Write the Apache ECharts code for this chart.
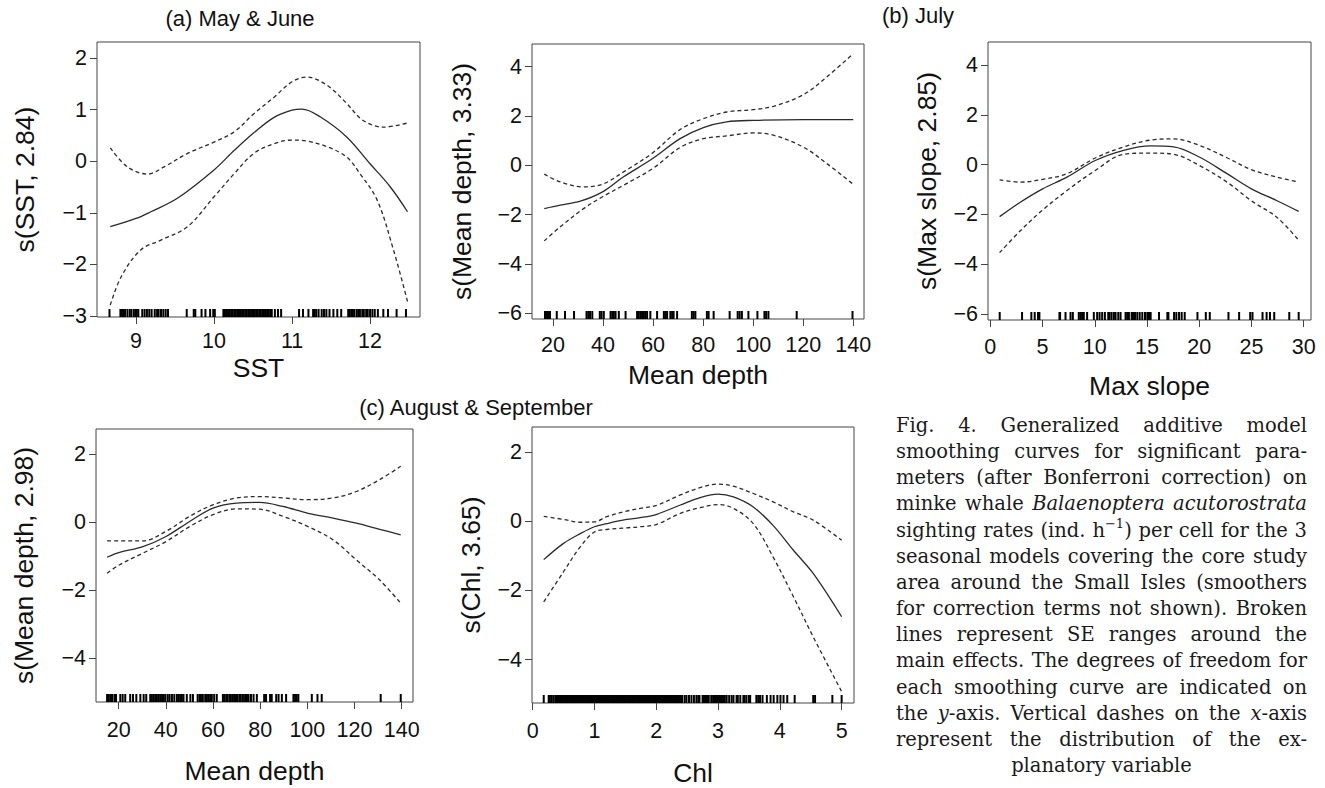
<!DOCTYPE html>
<html>
<head>
<meta charset="utf-8">
<script src="https://cdn.jsdelivr.net/npm/echarts@6/dist/echarts.min.js"></script>
<style>
html,body{margin:0;padding:0;background:#fff;}
#chart{width:1325px;height:788px;}
</style>
</head>
<body>
<div id="chart"></div>
<script>
// ---------------- DATA ----------------
// (a) May & June : SST
const sstFitX = [8.67, 9.0, 9.19, 9.53, 10.0, 10.26, 10.51, 10.77, 11.0, 11.13, 11.36, 11.70, 12.0, 12.26, 12.48];
const sstFit  = [-1.27, -1.11, -0.98, -0.72, -0.17, 0.21, 0.55, 0.85, 0.99, 1.01, 0.86, 0.47, -0.05, -0.50, -0.98];
const sstUpX  = [8.67, 8.89, 9.15, 9.36, 9.66, 10.0, 10.26, 10.51, 10.77, 11.0, 11.19, 11.45, 11.70, 11.91, 12.17, 12.48];
const sstUp   = [0.26, -0.11, -0.25, -0.11, 0.15, 0.37, 0.57, 0.92, 1.24, 1.54, 1.63, 1.47, 1.12, 0.79, 0.66, 0.74];
const sstLoX  = [8.67, 8.81, 9.06, 9.32, 9.66, 10.0, 10.26, 10.51, 10.77, 11.0, 11.19, 11.45, 11.70, 11.87, 12.09, 12.30, 12.48];
const sstLo   = [-2.79, -2.24, -1.72, -1.53, -1.27, -0.69, -0.24, 0.15, 0.34, 0.41, 0.39, 0.28, 0.08, -0.24, -0.75, -1.72, -2.72];
const sstRug  = [8.66, 8.80, 8.82, 8.84, 8.86, 8.89, 8.92, 8.94, 8.97, 8.99, 9.01, 9.03, 9.08, 9.11, 9.14, 9.17, 9.20, 9.24, 9.27, 9.29, 9.32, 9.35, 9.38, 9.41,
  9.65, 9.74, 9.76, 9.84, 9.89, 9.95, 9.99, 10.01,
  10.12, 10.14, 10.16, 10.18, 10.20, 10.22, 10.24, 10.26, 10.28, 10.30, 10.32, 10.34, 10.36, 10.38, 10.40, 10.42, 10.44, 10.46, 10.48, 10.50, 10.52, 10.54, 10.56, 10.58, 10.60, 10.62, 10.64, 10.66, 10.68, 10.70, 10.72, 10.74,
  10.78, 10.82, 10.86, 11.09, 11.14, 11.21, 11.27, 11.29, 11.31, 11.34, 11.38, 11.41, 11.44, 11.48, 11.53, 11.58, 11.63,
  11.72, 11.74, 11.76, 11.78, 11.80, 11.83, 11.85, 11.87, 11.90, 11.92, 11.95, 11.97, 12.00, 12.03, 12.06, 12.10, 12.17, 12.23, 12.34, 12.46];
const sstXTicks = [9, 10, 11, 12];
const sstYTicks = [-3, -2, -1, 0, 1, 2];

// (a) May & June : Mean depth
const md1FitX = [16.5, 22.9, 30.9, 39.8, 48.2, 59.8, 70.8, 80.1, 89.4, 100.1, 120.0, 140.0];
const md1Fit  = [-1.76, -1.62, -1.46, -1.08, -0.47, 0.27, 1.08, 1.53, 1.76, 1.82, 1.85, 1.85];
const md1SeX  = [16.5, 22.9, 32.2, 39.8, 48.2, 59.8, 70.8, 80.1, 89.4, 100.1, 108.1, 120.0, 129.4, 140.0];
const md1Up   = [-0.36, -0.68, -0.88, -0.77, -0.27, 0.50, 1.45, 1.89, 2.16, 2.26, 2.39, 2.86, 3.58, 4.53];
const md1Lo   = [-3.07, -2.50, -1.76, -1.28, -0.81, -0.14, 0.72, 1.08, 1.19, 1.31, 1.22, 0.74, 0.07, -0.77];
const md1Rug  = [16.8, 17.5, 18.0, 18.8, 21.5, 24.8, 28.4, 33.4, 34.1, 34.8, 35.7, 38.7, 39.4, 40.3, 43.0, 43.7, 44.3, 45.0, 46.3, 49.0,
  53.6, 54.3, 55.0, 55.6, 56.3, 56.9, 57.6, 58.9, 61.6, 64.3, 64.9, 65.6, 66.9, 67.6, 68.2, 69.6, 75.5, 76.2, 76.9, 81.5, 82.2, 84.2,
  90.6, 93.8, 94.6, 95.5, 98.1, 101.7, 104.5, 105.2, 106.1, 117.4, 139.7];
const md1XTicks = [20, 40, 60, 80, 100, 120, 140];
const md1YTicks = [-6, -4, -2, 0, 2, 4];

// (b) July : Max slope
const msX   = [0.89, 2.87, 5.01, 7.34, 10.05, 12.77, 15.32, 17.55, 20.01, 22.66, 24.99, 27.45, 29.52];
const msFit = [-2.09, -1.51, -0.97, -0.50, 0.17, 0.58, 0.76, 0.72, 0.31, -0.36, -0.97, -1.45, -1.88];
const msUp  = [-0.61, -0.70, -0.59, -0.36, 0.27, 0.72, 0.99, 1.04, 0.78, 0.28, -0.20, -0.50, -0.70];
const msLo  = [-3.54, -2.66, -1.82, -1.04, -0.23, 0.42, 0.47, 0.42, -0.03, -0.70, -1.45, -2.12, -3.04];
const msRug = [0.90, 3.04, 3.93, 4.25, 4.57, 4.70, 6.62, 6.68, 7.20, 7.68, 7.90, 8.47, 8.63, 8.79, 8.95, 9.27, 9.91, 10.23, 10.46, 10.71, 10.97,
  11.29, 11.42, 11.61, 11.83, 11.99, 12.25, 12.47, 12.95, 13.11, 13.27, 13.53, 13.66, 13.85, 14.07, 14.30, 14.55, 14.81, 15.03, 15.13, 15.25, 15.35,
  16.15, 16.95, 17.05, 17.59, 17.81, 18.07, 18.32, 18.61, 19.83, 20.63, 21.01, 22.80, 23.82, 24.88, 25.10, 26.06, 26.45, 26.77, 27.18, 28.62, 29.52];
const msXTicks = [0, 5, 10, 15, 20, 25, 30];
const msYTicks = [-6, -4, -2, 0, 2, 4];

// (c) August & September : Mean depth
const md2X   = [15.1, 20.4, 30.3, 40.1, 50.1, 60.0, 69.9, 79.8, 89.7, 100.3, 110.9, 120.8, 130.7, 139.6];
const md2Fit = [-1.03, -0.89, -0.72, -0.42, 0.02, 0.41, 0.56, 0.58, 0.46, 0.26, 0.12, -0.03, -0.21, -0.37];
const md2Up  = [-0.55, -0.55, -0.55, -0.27, 0.17, 0.51, 0.71, 0.75, 0.71, 0.66, 0.71, 0.90, 1.25, 1.64];
const md2Lo  = [-1.50, -1.25, -0.91, -0.57, -0.13, 0.22, 0.39, 0.38, 0.17, -0.13, -0.52, -1.11, -1.70, -2.38];
const md2Rug = [15.1, 15.8, 16.5, 17.2, 18.2, 18.9, 20.7, 21.7, 22.8, 24.9, 26.1, 27.5, 29.2, 30.6, 31.7, 33.4, 34.1, 34.8, 35.5, 36.2, 36.9,
  37.6, 38.4, 39.1, 39.8, 40.8, 41.6, 42.6, 43.6, 44.7, 45.4, 46.1, 46.8, 47.5, 48.9, 50.4, 51.5, 53.5, 54.3, 54.9, 55.7, 56.7, 57.4, 58.1,
  58.8, 59.5, 60.5, 61.6, 64.2, 64.8, 65.6, 66.2, 67.0, 67.6, 68.4, 69.0, 69.4, 69.8, 70.4, 71.2, 71.8, 72.7, 73.6, 74.4, 75.1, 76.1, 77.2,
  78.6, 81.7, 82.5, 84.2, 84.9, 86.8, 87.8, 89.2, 91.0, 94.1, 94.8, 95.5, 96.2, 101.9, 104.3, 106.1, 131.1, 139.6];
const md2XTicks = [20, 40, 60, 80, 100, 120, 140];
const md2YTicks = [-4, -2, 0, 2];

// (c) August & September : Chl
const chlX   = [0.18, 0.50, 0.77, 1.00, 1.20, 1.52, 1.74, 2.01, 2.38, 2.71, 3.00, 3.25, 3.57, 3.89, 4.22, 4.54, 5.00];
const chlFit = [-1.11, -0.64, -0.36, -0.16, -0.07, 0.05, 0.10, 0.20, 0.46, 0.68, 0.78, 0.70, 0.41, -0.12, -0.84, -1.51, -2.76];
const chlUp  = [0.14, 0.05, -0.03, -0.02, 0.13, 0.29, 0.37, 0.46, 0.75, 0.97, 1.07, 1.01, 0.80, 0.56, 0.27, 0.03, -0.55];
const chlLo  = [-2.33, -1.46, -0.74, -0.31, -0.24, -0.19, -0.16, -0.09, 0.22, 0.39, 0.48, 0.37, -0.07, -1.03, -2.18, -3.34, -4.92];
const chlRug = [0.18, 0.26, 0.28, 0.31, 0.34,
  0.37, 0.39, 0.41, 0.43, 0.45, 0.47, 0.49, 0.51, 0.53, 0.55, 0.57, 0.59, 0.61, 0.63, 0.65, 0.67, 0.69, 0.71, 0.73, 0.75, 0.77, 0.79,
  0.81, 0.83, 0.85, 0.87, 0.89, 0.91, 0.93, 0.95, 0.97, 0.99, 1.01, 1.03, 1.05, 1.07, 1.09, 1.11, 1.13, 1.15, 1.17, 1.19, 1.21, 1.23,
  1.25, 1.27, 1.29, 1.31, 1.33, 1.35, 1.37, 1.39, 1.41, 1.43, 1.45, 1.47, 1.49, 1.51, 1.53, 1.55, 1.57, 1.59, 1.61, 1.63, 1.65, 1.67,
  1.69, 1.71, 1.73, 1.75, 1.77, 1.79, 1.81, 1.83, 1.85, 1.87, 1.89, 1.91, 1.93, 1.95, 1.97, 1.99, 2.01, 2.03, 2.05, 2.07, 2.09, 2.11,
  2.13, 2.15, 2.17, 2.19, 2.21, 2.23, 2.25, 2.27, 2.29, 2.31, 2.33, 2.35, 2.37, 2.39, 2.41,
  2.42, 2.46, 2.49, 2.53, 2.57, 2.61, 2.65, 2.68, 2.70, 2.75, 2.77, 2.79, 2.81, 2.83, 2.85, 2.89, 2.92, 2.95, 2.97, 3.00, 3.03, 3.05,
  3.08, 3.11, 3.14, 3.18, 3.22, 3.25, 3.30, 3.32, 3.36, 3.41, 3.43, 3.46, 3.50, 3.52, 3.62, 3.65, 3.68, 3.72, 3.79, 3.85, 3.90, 3.96,
  4.01, 4.06, 4.12, 4.24, 4.54, 4.57, 4.85, 5.00];
const chlXTicks = [0, 1, 2, 3, 4, 5];
const chlYTicks = [-4, -2, 0, 2];

// Text
const panelTitles = ['(a) May & June', '(b) July', '(c) August & September'];
const xNames = ['SST', 'Mean depth', 'Max slope', 'Mean depth', 'Chl'];
const yNames = ['s(SST, 2.84)', 's(Mean depth, 3.33)', 's(Max slope, 2.85)', 's(Mean depth, 2.98)', 's(Chl, 3.65)'];
const captionLines = [
  'Fig. 4. Generalized additive model',
  'smoothing curves for significant para-',
  'meters (after Bonferroni correction) on',
  'minke whale *Balaenoptera* *acutorostrata*',
  'sighting rates (ind. h^\u22121^) per cell for the 3',
  'seasonal models covering the core study',
  'area around the Small Isles (smoothers',
  'for correction terms not shown). Broken',
  'lines represent SE ranges around the',
  'main effects. The degrees of freedom for',
  'each smoothing curve are indicated on',
  'the *y*-axis. Vertical dashes on the *x*-axis',
  'represent the distribution of the ex-',
  'planatory variable'
];

// ---------------- LAYOUT / STYLE ----------------
const FONT = '"Liberation Sans", Arial, Helvetica, sans-serif';
const SERIF = '"DejaVu Serif", serif';
const TXT = '#111';
const LINE = '#2a2a2a';
const BOX = '#444';

const panels = [
  {grid:{left:97, top:42, width:323, height:275}, x:[8.5, 12.64], y:[-3.02, 2.31], xt:sstXTicks, yt:sstYTicks, xg:37, yg:59, lm:13,
   lines:[[sstFitX, sstFit, 'solid'], [sstUpX, sstUp, 'dash'], [sstLoX, sstLo, 'dash']], rug:sstRug},
  {grid:{left:532, top:44, width:332, height:275}, x:[11.6, 144.3], y:[-6.24, 4.92], xt:md1XTicks, yt:md1YTicks, xg:42, yg:57, lm:15,
   lines:[[md1FitX, md1Fit, 'solid'], [md1SeX, md1Up, 'dash'], [md1SeX, md1Lo, 'dash']], rug:md1Rug},
  {grid:{left:988, top:42, width:323, height:278}, x:[-0.22, 30.7], y:[-6.25, 4.94], xt:msXTicks, yt:msYTicks, xg:52, yg:48, lm:16,
   lines:[[msX, msFit, 'solid'], [msX, msUp, 'dash'], [msX, msLo, 'dash']], rug:msRug},
  {grid:{left:96, top:429, width:317, height:273}, x:[10.4, 144.8], y:[-5.28, 2.735], xt:md2XTicks, yt:md2YTicks, xg:55, yg:59, lm:17,
   lines:[[md2X, md2Fit, 'solid'], [md2X, md2Up, 'dash'], [md2X, md2Lo, 'dash']], rug:md2Rug},
  {grid:{left:532, top:427, width:322, height:276}, x:[-0.01, 5.2], y:[-5.25, 2.72], xt:chlXTicks, yt:chlYTicks, xg:56, yg:48, lm:17,
   lines:[[chlX, chlFit, 'solid'], [chlX, chlUp, 'dash'], [chlX, chlLo, 'dash']], rug:chlRug}
];

function fmt(v) { return v < 0 ? '\u2212' + Math.abs(v) : String(v); }

const grid = [], xAxis = [], yAxis = [], series = [];
panels.forEach((p, i) => {
  grid.push(Object.assign({show:true, borderColor:BOX, borderWidth:1, backgroundColor:'transparent', containLabel:false, outerBoundsMode:'none'}, p.grid));
  xAxis.push({
    gridIndex:i, type:'value', min:p.x[0], max:p.x[1],
    name:xNames[i], nameLocation:'middle', nameGap:p.xg, nameMoveOverlap:false,
    nameTextStyle:{fontSize:26.5, color:TXT, fontFamily:FONT},
    axisLine:{show:false, onZero:false},
    axisTick:{show:true, inside:false, length:7, customValues:p.xt, lineStyle:{color:BOX, width:1}},
    axisLabel:{show:true, customValues:p.xt, formatter:fmt, fontSize:21.5, color:TXT, fontFamily:FONT, margin:p.lm, hideOverlap:false},
    splitLine:{show:false}
  });
  yAxis.push({
    gridIndex:i, type:'value', min:p.y[0], max:p.y[1],
    name:yNames[i], nameLocation:'middle', nameRotate:90, nameGap:p.yg, nameMoveOverlap:false,
    nameTextStyle:{fontSize:26.5, color:TXT, fontFamily:FONT},
    axisLine:{show:false, onZero:false},
    axisTick:{show:true, inside:false, length:7, customValues:p.yt, lineStyle:{color:BOX, width:1}},
    axisLabel:{show:true, customValues:p.yt, formatter:fmt, fontSize:21.5, color:TXT, fontFamily:FONT, margin:10, hideOverlap:false},
    splitLine:{show:false}
  });
  p.lines.forEach(([xs, ys, kind]) => {
    series.push({
      type:'line', xAxisIndex:i, yAxisIndex:i, silent:true, animation:false,
      data: xs.map((x, k) => [x, ys[k]]),
      showSymbol:false, symbol:'none', smooth:0.35,
      lineStyle:{color:LINE, width:1.3, type: kind === 'dash' ? [4, 3] : 'solid'},
      emphasis:{disabled:true}
    });
  });
  series.push({
    type:'scatter', xAxisIndex:i, yAxisIndex:i, silent:true, animation:false,
    data: p.rug.map(v => [v, p.y[0]]),
    symbol:'rect', symbolSize:[2, 8], symbolOffset:[0, -4],
    itemStyle:{color:'#000', opacity:1, borderWidth:0}, emphasis:{disabled:true}
  });
});

// ---- caption (justified, word by word) ----
function parseWord(w) {
  const segs = [];
  const re = /\*([^*]+)\*|\^([^^]+)\^|([^*^]+)/g;
  let m;
  while ((m = re.exec(w))) {
    if (m[1]) segs.push({t:m[1], it:true});
    else if (m[2]) segs.push({t:m[2], sup:true});
    else segs.push({t:m[3]});
  }
  return {segs};
}
function buildCaption() {
  const ctx = document.createElement('canvas').getContext('2d');
  const size = 19.5, supSize = 13;
  const left = 896, width = 411, y0 = 425.5, lh = 26.15;
  const els = [];
  captionLines.forEach((line, li) => {
    const words = line.split(' ').map(parseWord);
    words.forEach(w => {
      w.w = 0;
      w.segs.forEach(s => {
        ctx.font = (s.it ? 'italic ' : '') + (s.sup ? supSize : size) + 'px ' + SERIF;
        s.w = ctx.measureText(s.t).width;
        w.w += s.w;
      });
    });
    const total = words.reduce((a, w) => a + w.w, 0);
    const last = li === captionLines.length - 1;
    let gap, x;
    if (last) {
      ctx.font = size + 'px ' + SERIF;
      gap = ctx.measureText(' ').width;
      x = left + (width - total - gap * (words.length - 1)) / 2;
    } else {
      gap = (width - total) / (words.length - 1);
      x = left;
    }
    const y = y0 + li * lh;
    words.forEach(w => {
      let sx = x;
      w.segs.forEach(s => {
        els.push({type:'text', x:sx, y: s.sup ? y - 7 : y, silent:true,
          style:{text:s.t, fontFamily:SERIF, fontSize: s.sup ? supSize : size, fontStyle: s.it ? 'italic' : 'normal',
                 fill:'#1a1a1a', align:'left', verticalAlign:'middle'}});
        sx += s.w;
      });
      x += w.w + gap;
    });
  });
  return els;
}

const titleEls = [
  {type:'text', x:240, y:18, silent:true, style:{text:panelTitles[0], fontFamily:FONT, fontSize:22, fill:TXT, align:'center', verticalAlign:'middle'}},
  {type:'text', x:882, y:15, silent:true, style:{text:panelTitles[1], fontFamily:FONT, fontSize:22, fill:TXT, align:'left', verticalAlign:'middle'}},
  {type:'text', x:476, y:407, silent:true, style:{text:panelTitles[2], fontFamily:FONT, fontSize:22, fill:TXT, align:'center', verticalAlign:'middle'}}
];

const chart = echarts.init(document.getElementById('chart'), null, {renderer:'svg'});
chart.setOption({
  backgroundColor:'#ffffff',
  animation:false,
  grid, xAxis, yAxis, series,
  graphic: titleEls.concat(buildCaption())
});
</script>
</body>
</html>
